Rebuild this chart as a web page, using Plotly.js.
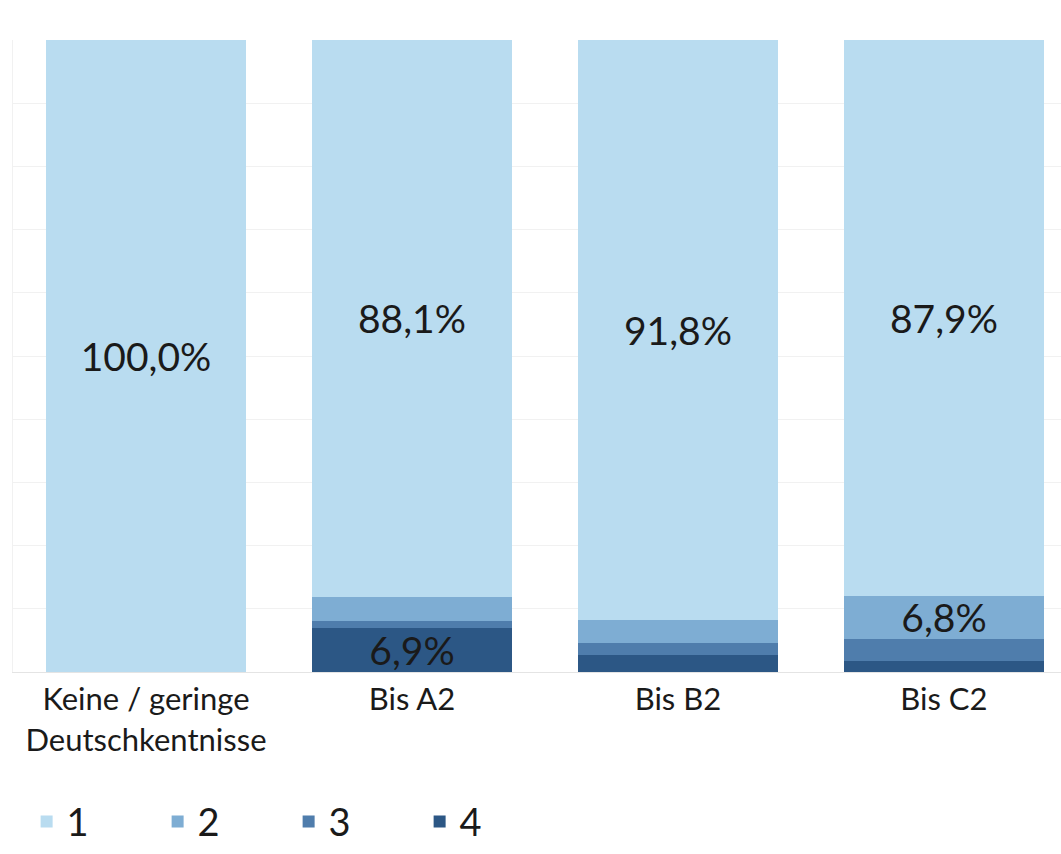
<!DOCTYPE html>
<html>
<head>
<meta charset="utf-8">
<script src="https://cdn.plot.ly/plotly-3.0.1.min.js"></script>
<style>html,body{margin:0;padding:0;background:#fff;}</style>
</head>
<body>
<div id="chart" style="width:1061px;height:854px;"></div>
<script>
const categories = ["Keine / geringe<br>Deutschkentnisse", "Bis A2", "Bis B2", "Bis C2"];
const seriesNames = ["1", "2", "3", "4"];
const s1 = [100.0, 88.1, 91.8, 87.9];
const s2 = [0.0, 3.8, 3.6, 6.8];
const s3 = [0.0, 1.2, 1.9, 3.6];
const s4 = [0.0, 6.9, 2.7, 1.7];
const show1 = [true, true, true, true];
const show2 = [false, false, false, true];
const show3 = [false, false, false, false];
const show4 = [false, true, false, false];
const colors = ["#b9dcf0", "#7eadd3", "#4f7dac", "#2c5785"];

function fmt(v) { return v.toFixed(1).replace('.', ',') + '%'; }
const allSeries = [s1, s2, s3, s4];
const allShow = [show1, show2, show3, show4];

const traces = [];
for (let k = 3; k >= 0; k--) {
  traces.push({
    type: 'bar',
    name: seriesNames[k],
    x: categories,
    y: allSeries[k],
    marker: {color: colors[k], line: {width: 0}},
    text: allSeries[k].map((v, i) => allShow[k][i] ? fmt(v) : ''),
    textposition: 'inside',
    insidetextanchor: 'middle',
    textangle: 0,
    textfont: {family: 'Lato, sans-serif', size: 39, color: '#1a1a1a'},
    hoverinfo: 'skip',
    legendrank: k + 1
  });
}

const layout = {
  width: 1061,
  height: 854,
  margin: {l: 13, r: 0, t: 40, b: 182, autoexpand: false},
  barmode: 'stack',
  bargap: 0.248,
  paper_bgcolor: '#ffffff',
  plot_bgcolor: '#ffffff',
  showlegend: true,
  uniformtext: {mode: 'show', minsize: 39},
  font: {family: 'Lato, sans-serif', color: '#1a1a1a'},
  xaxis: {
    type: 'category',
    range: [-0.5, 3.44],
    showgrid: false,
    showline: true,
    linecolor: '#e4e4e4',
    linewidth: 1,
    ticks: '',
    tickfont: {family: 'Lato, sans-serif', size: 31, color: '#1a1a1a'},
    fixedrange: true
  },
  yaxis: {
    range: [0, 100],
    dtick: 10,
    showticklabels: false,
    showgrid: true,
    gridcolor: '#f1f1f1',
    gridwidth: 1,
    zeroline: false,
    showline: true,
    linecolor: '#f1f1f1',
    ticks: '',
    fixedrange: true
  },
  legend: {
    orientation: 'h',
    traceorder: 'normal',
    x: 0.013,
    xanchor: 'left',
    y: -0.287,
    yanchor: 'bottom',
    entrywidth: 86,
    entrywidthmode: 'pixels',
    font: {family: 'Lato, sans-serif', size: 38, color: '#1a1a1a'},
    itemwidth: 30
  }
};

Plotly.newPlot('chart', traces, layout, {displayModeBar: false, staticPlot: true});
</script>
</body>
</html>
